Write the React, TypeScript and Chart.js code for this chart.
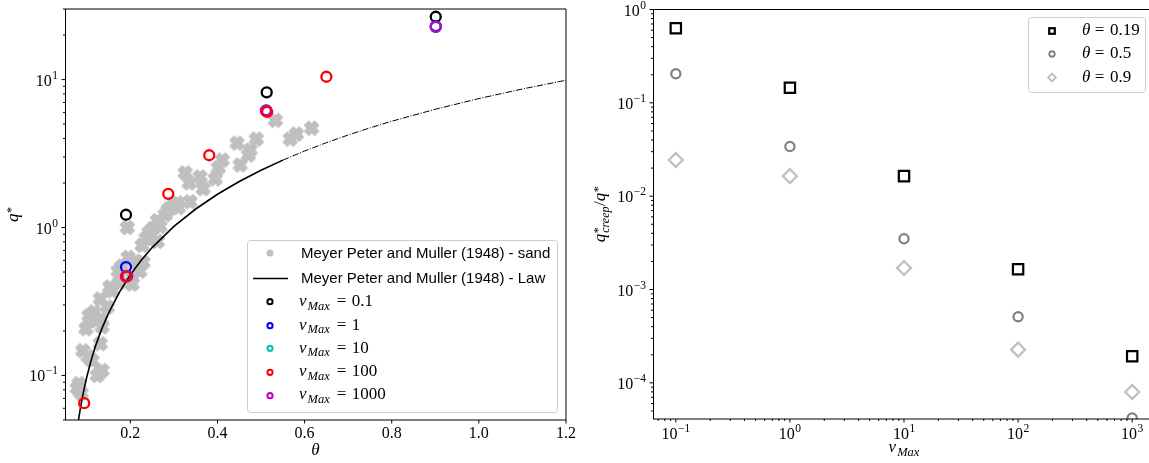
import React, { useEffect, useRef } from 'react';
import { Chart, registerables } from 'chart.js';

Chart.register(...registerables);

// ---------------- Left panel data ----------------
const sandTheta = [0.078, 0.087, 0.082, 0.091, 0.103, 0.112, 0.131, 0.124, 0.135, 0.098, 0.108, 0.117, 0.105, 0.133, 0.131, 0.147, 0.135, 0.153, 0.158, 0.176, 0.172, 0.204, 0.204, 0.222, 0.181, 0.195, 0.211, 0.229, 0.227, 0.236, 0.262, 0.243, 0.252, 0.262, 0.193, 0.268, 0.296, 0.308, 0.337, 0.31, 0.326, 0.36, 0.335, 0.367, 0.395, 0.402, 0.411, 0.452, 0.445, 0.475, 0.489, 0.471, 0.533, 0.567, 0.581, 0.616, 0.287, 0.28];
const sandQ = [0.082, 0.076, 0.088, 0.147, 0.134, 0.126, 0.164, 0.1, 0.108, 0.207, 0.234, 0.269, 0.253, 0.241, 0.329, 0.29, 0.213, 0.396, 0.372, 0.428, 0.507, 0.414, 0.462, 0.507, 0.547, 0.629, 0.591, 0.582, 0.757, 0.844, 0.805, 0.926, 0.985, 1.114, 1.0, 1.016, 1.383, 1.47, 1.494, 1.362, 2.34, 2.2, 2.0, 1.83, 2.13, 2.53, 2.86, 2.65, 3.72, 3.34, 3.96, 3.09, 5.31, 3.96, 4.28, 4.69, 1.32, 1.22];

const lawThetaSolid = [0.08, 0.085, 0.09, 0.095, 0.1, 0.11, 0.12, 0.135, 0.15, 0.175, 0.2, 0.225, 0.25, 0.3, 0.35, 0.4, 0.45, 0.5, 0.55];
const lawQSolid = [0.048, 0.0593, 0.0713, 0.0841, 0.0976, 0.1265, 0.158, 0.2088, 0.264, 0.366, 0.479, 0.601, 0.732, 1.018, 1.334, 1.678, 2.047, 2.439, 2.854];
const lawThetaExt = [0.55, 0.6, 0.65, 0.7, 0.75, 0.8, 0.9, 1.0, 1.1, 1.2];
const lawQExt = [2.854, 3.29, 3.746, 4.22, 4.716, 5.23, 6.3, 7.44, 8.64, 9.9];

const nu01Theta = [0.19, 0.513, 0.901];
const nu01Q = [1.22, 8.2, 26.6];
const nu1Theta = [0.19, 0.512, 0.901];
const nu1Q = [0.54, 6.2, 23.0];
const nu10Theta = [0.19, 0.512, 0.901];
const nu10Q = [0.47, 6.15, 22.7];
const nu100Theta = [0.094, 0.19, 0.287, 0.381, 0.514, 0.65];
const nu100Q = [0.065, 0.465, 1.69, 3.08, 6.05, 10.45];
const nu1000Theta = [0.193, 0.511, 0.901];
const nu1000Q = [0.47, 6.15, 22.7];

const leftLegendText = ['Meyer Peter and Muller (1948) - sand', 'Meyer Peter and Muller (1948) - Law'];
const leftLegendNu = ['0.1', '1', '10', '100', '1000'];
const nuColors = ['#000000', '#0000ff', '#00bfbf', '#ff0000', '#bf00bf'];

const leftXTicks = [0.2, 0.4, 0.6, 0.8, 1.0, 1.2];
const leftXTickLabels = ['0.2', '0.4', '0.6', '0.8', '1.0', '1.2'];
const leftYTicks = [0.1, 1, 10];
const leftYTickExps = ['\u22121', '0', '1'];

// ---------------- Right panel data ----------------
const nuMax = [0.1, 1, 10, 100, 1000];
const ratioTheta019 = [0.63, 0.145, 0.0164, 0.00165, 0.000193];
const ratioTheta05 = [0.205, 0.034, 0.0035, 0.00051, 0.000042];
const ratioTheta09 = [0.0244, 0.0164, 0.0017, 0.000227, 0.00008];
const rightLegendTheta = ['0.19', '0.5', '0.9'];

const rightXTicks = [0.1, 1, 10, 100, 1000];
const rightXTickExps = ['\u22121', '0', '1', '2', '3'];
const rightYTicks = [1e-4, 1e-3, 1e-2, 1e-1, 1];
const rightYTickExps = ['\u22124', '\u22123', '\u22122', '\u22121', '0'];

// ---------------- helpers ----------------
const SERIF = '"Liberation Serif", "DejaVu Serif", serif';
const SANS = '"Liberation Sans", "DejaVu Sans", sans-serif';
const OX = 580; // page x of right canvas

type Seg = { t: string; size: number; italic?: boolean; dy?: number; gap?: number; stack?: boolean; fam?: string };

const fontOf = (s: Seg) => `${s.italic ? 'italic ' : ''}${s.size}px ${s.fam || SERIF}`;

function segsWidth(ctx: CanvasRenderingContext2D, segs: Seg[]) {
  let w = 0;
  let pending = 0;
  for (const s of segs) {
    ctx.font = fontOf(s);
    const sw = ctx.measureText(s.t).width;
    w += s.gap || 0;
    if (s.stack) { pending = sw; continue; }
    w += Math.max(sw, pending);
    pending = 0;
  }
  return w;
}

function drawSegs(ctx: CanvasRenderingContext2D, segs: Seg[], x: number, y: number, align: 'left' | 'right' | 'center') {
  const total = segsWidth(ctx, segs);
  let cx = align === 'left' ? x : align === 'right' ? x - total : x - total / 2;
  let pending = 0;
  ctx.textAlign = 'left';
  ctx.textBaseline = 'alphabetic';
  for (const s of segs) {
    ctx.font = fontOf(s);
    const sw = ctx.measureText(s.t).width;
    cx += s.gap || 0;
    ctx.fillText(s.t, cx, y + (s.dy || 0));
    if (s.stack) { pending = sw; continue; }
    cx += Math.max(sw, pending);
    pending = 0;
  }
}

const powLabel = (e: string): Seg[] => [{ t: '10', size: 16 }, { t: e, size: 11.5, dy: -7, gap: 0.5 }];

function seg(ctx: CanvasRenderingContext2D, x1: number, y1: number, x2: number, y2: number) {
  ctx.beginPath();
  ctx.moveTo(x1, y1);
  ctx.lineTo(x2, y2);
  ctx.stroke();
}

function logMinors(lo: number, hi: number) {
  const out: number[] = [];
  for (let e = Math.floor(Math.log10(lo)); e <= Math.ceil(Math.log10(hi)); e++) {
    for (let m = 2; m <= 9; m++) {
      const v = m * Math.pow(10, e);
      if (v >= lo && v <= hi) out.push(v);
    }
  }
  return out;
}

// filled "X" marker (thick diagonal cross)
function makeXMarker(color: string) {
  const c = document.createElement('canvas');
  c.width = 19;
  c.height = 19;
  const g = c.getContext('2d')!;
  const h = 2.9;
  const L = 7.0;
  const plus = [[-h, -L], [h, -L], [h, -h], [L, -h], [L, h], [h, h], [h, L], [-h, L], [-h, h], [-L, h], [-L, -h], [-h, -h]];
  g.translate(c.width / 2, c.height / 2);
  g.rotate(Math.PI / 4);
  g.beginPath();
  plus.forEach(([px, py], i) => (i ? g.lineTo(px, py) : g.moveTo(px, py)));
  g.closePath();
  g.fillStyle = color;
  g.strokeStyle = color;
  g.lineWidth = 1.4;
  g.lineJoin = 'round';
  g.fill();
  g.stroke();
  return c;
}

const zip = (xs: number[], ys: number[]) => xs.map((x, i) => ({ x, y: ys[i] }));

function circleSet(label: string, xs: number[], ys: number[], color: string) {
  return {
    label,
    data: zip(xs, ys),
    showLine: false,
    pointStyle: 'circle',
    pointRadius: 5,
    pointBorderWidth: 2.3,
    pointBorderColor: color,
    pointBackgroundColor: 'rgba(0,0,0,0)',
    borderColor: color,
    backgroundColor: 'rgba(0,0,0,0)',
    clip: 0,
  };
}

// ---------------- plugins ----------------
const leftDecor = {
  id: 'leftDecor',
  afterDatasetsDraw(chart: any) {
    const { ctx, chartArea: a, scales } = chart;
    const xs = scales.x;
    const ys = scales.y;
    ctx.save();
    ctx.strokeStyle = '#000';
    ctx.fillStyle = '#000';
    ctx.lineWidth = 1;
    // spines
    seg(ctx, a.left + 0.5, a.top, a.left + 0.5, a.bottom);
    seg(ctx, a.left, a.bottom, a.right, a.bottom);
    seg(ctx, a.left, a.top, a.right, a.top);
    seg(ctx, a.right, a.top, a.right, a.bottom);
    // x ticks
    leftXTicks.forEach((v, i) => {
      const px = xs.getPixelForValue(v);
      seg(ctx, px, a.bottom, px, a.bottom + 3.5);
      drawSegs(ctx, [{ t: leftXTickLabels[i], size: 16 }], px, 438, 'center');
    });
    // y ticks
    logMinors(0.05, 30).forEach((v) => {
      const py = ys.getPixelForValue(v);
      seg(ctx, a.left, py, a.left - 2, py);
    });
    leftYTicks.forEach((v, i) => {
      const py = ys.getPixelForValue(v);
      seg(ctx, a.left, py, a.left - 3.5, py);
      drawSegs(ctx, powLabel(leftYTickExps[i]), 58, py + 6, 'right');
    });
    // titles
    drawSegs(ctx, [{ t: '\u03b8', size: 17, italic: true }], (a.left + a.right) / 2, 455, 'center');
    ctx.save();
    ctx.translate(18, (a.top + a.bottom) / 2);
    ctx.rotate(-Math.PI / 2);
    drawSegs(ctx, [{ t: 'q', size: 17, italic: true }, { t: '*', size: 12, dy: -3, gap: 0.5 }], 0, 0, 'center');
    ctx.restore();

    // legend
    ctx.beginPath();
    ctx.roundRect(247.5, 240.5, 310, 172, 3);
    ctx.fillStyle = 'rgba(255,255,255,0.8)';
    ctx.fill();
    ctx.strokeStyle = '#cccccc';
    ctx.stroke();
    ctx.fillStyle = '#c0c0c0';
    ctx.beginPath();
    ctx.arc(270, 253, 3.5, 0, Math.PI * 2);
    ctx.fill();
    ctx.strokeStyle = '#000';
    ctx.lineWidth = 1.5;
    seg(ctx, 253, 278.5, 288, 278.5);
    ctx.fillStyle = '#000';
    drawSegs(ctx, [{ t: leftLegendText[0], size: 15, fam: SANS }], 301, 258, 'left');
    drawSegs(ctx, [{ t: leftLegendText[1], size: 15, fam: SANS }], 301, 283, 'left');
    const cy = [301.7, 325.7, 348.3, 372.3, 395.7];
    const by = [306, 329.5, 352.5, 376, 399];
    leftLegendNu.forEach((v, i) => {
      ctx.strokeStyle = nuColors[i];
      ctx.lineWidth = 2;
      ctx.beginPath();
      ctx.arc(270, cy[i], 2.6, 0, Math.PI * 2);
      ctx.stroke();
      ctx.fillStyle = '#000';
      drawSegs(ctx, [
        { t: '\u03bd', size: 17, italic: true },
        { t: 'Max', size: 12.5, italic: true, dy: 3.5, gap: 1 },
        { t: '=', size: 17, gap: 7 },
        { t: v, size: 17, gap: 5.5 },
      ], 299, by[i], 'left');
    });
    ctx.restore();
  },
};

const rightDecor = {
  id: 'rightDecor',
  afterDatasetsDraw(chart: any) {
    const { ctx, chartArea: a, scales } = chart;
    const xs = scales.x;
    const ys = scales.y;
    ctx.save();
    ctx.strokeStyle = '#000';
    ctx.fillStyle = '#000';
    ctx.lineWidth = 1;
    seg(ctx, a.left + 0.5, a.top, a.left + 0.5, a.bottom);
    seg(ctx, a.left, a.bottom, a.right, a.bottom);
    seg(ctx, a.left, a.top, a.right, a.top);
    seg(ctx, a.right, a.top, a.right, a.bottom);
    logMinors(xs.min, xs.max).forEach((v) => {
      const px = xs.getPixelForValue(v);
      seg(ctx, px, a.bottom, px, a.bottom + 2);
    });
    rightXTicks.forEach((v, i) => {
      const px = xs.getPixelForValue(v);
      seg(ctx, px, a.bottom, px, a.bottom + 3.5);
      drawSegs(ctx, powLabel(rightXTickExps[i]), px, 439, 'center');
    });
    logMinors(ys.min, ys.max).forEach((v) => {
      const py = ys.getPixelForValue(v);
      seg(ctx, a.left, py, a.left - 2, py);
    });
    rightYTicks.forEach((v, i) => {
      const py = ys.getPixelForValue(v);
      seg(ctx, a.left, py, a.left - 3.5, py);
      drawSegs(ctx, powLabel(rightYTickExps[i]), 646 - OX, py + 6, 'right');
    });
    // x title
    drawSegs(ctx, [
      { t: '\u03bd', size: 17, italic: true },
      { t: 'Max', size: 12.5, italic: true, dy: 3.5, gap: 1 },
    ], (a.left + a.right) / 2, 452, 'center');
    // y title
    ctx.save();
    ctx.translate(605 - OX, (a.top + a.bottom) / 2);
    ctx.rotate(-Math.PI / 2);
    drawSegs(ctx, [
      { t: 'q', size: 17, italic: true },
      { t: '*', size: 12, dy: -3, gap: 0.5, stack: true },
      { t: 'creep', size: 12, italic: true, dy: 4, gap: 0.5 },
      { t: '/', size: 17, gap: 0.5 },
      { t: 'q', size: 17, italic: true },
      { t: '*', size: 12, dy: -3, gap: 0.5 },
    ], 0, 0, 'center');
    ctx.restore();
    // legend
    ctx.beginPath();
    ctx.roundRect(1028.5 - OX, 17.5, 117, 75, 3);
    ctx.fillStyle = 'rgba(255,255,255,0.8)';
    ctx.fill();
    ctx.strokeStyle = '#cccccc';
    ctx.lineWidth = 1;
    ctx.stroke();
    const hx = 1052 - OX;
    ctx.lineWidth = 2.2;
    ctx.strokeStyle = '#000000';
    ctx.strokeRect(hx - 2.8, 31 - 2.8, 5.6, 5.6);
    ctx.lineWidth = 1.9;
    ctx.strokeStyle = '#808080';
    ctx.beginPath();
    ctx.arc(hx, 54, 2.7, 0, Math.PI * 2);
    ctx.stroke();
    ctx.strokeStyle = '#bfbfbf';
    ctx.beginPath();
    ctx.moveTo(hx, 77.5 - 3.8);
    ctx.lineTo(hx + 3.8, 77.5);
    ctx.lineTo(hx, 77.5 + 3.8);
    ctx.lineTo(hx - 3.8, 77.5);
    ctx.closePath();
    ctx.stroke();
    ctx.fillStyle = '#000';
    const by = [35, 58, 81.5];
    rightLegendTheta.forEach((v, i) => {
      drawSegs(ctx, [
        { t: '\u03b8', size: 17, italic: true },
        { t: '=', size: 17, gap: 4.5 },
        { t: v, size: 17, gap: 5.5 },
      ], 1082 - OX, by[i], 'left');
    });
    ctx.restore();
  },
};

function withOrder(sets: any[]) {
  return sets.map((s, i) => ({ ...s, order: sets.length - i }));
}

export default function App() {
  const leftRef = useRef<HTMLCanvasElement>(null);
  const rightRef = useRef<HTMLCanvasElement>(null);

  useEffect(() => {
    const xMarker = makeXMarker('#bfbfbf');
    const leftSets = withOrder([
      {
        label: leftLegendText[0],
        data: zip(sandTheta, sandQ),
        showLine: false,
        pointStyle: xMarker,
        pointRadius: 8,
        borderColor: '#bfbfbf',
        backgroundColor: '#bfbfbf',
        clip: 0,
      },
      {
        label: leftLegendText[1],
        data: zip(lawThetaSolid, lawQSolid),
        showLine: true,
        borderColor: '#000',
        borderWidth: 1.6,
        pointRadius: 0,
        tension: 0,
        fill: false,
        clip: 0,
      },
      {
        label: 'law (extrapolated)',
        data: zip(lawThetaExt, lawQExt),
        showLine: true,
        borderColor: '#000',
        borderWidth: 1,
        borderDash: [6.4, 1.6, 1, 1.6],
        pointRadius: 0,
        tension: 0,
        fill: false,
        clip: 0,
      },
      circleSet('nu 0.1', nu01Theta, nu01Q, nuColors[0]),
      circleSet('nu 1', nu1Theta, nu1Q, nuColors[1]),
      circleSet('nu 10', nu10Theta, nu10Q, nuColors[2]),
      circleSet('nu 1000', nu1000Theta, nu1000Q, nuColors[4]),
      circleSet('nu 100', nu100Theta, nu100Q, nuColors[3]),
    ]);

    const left = new Chart(leftRef.current!, {
      type: 'scatter',
      data: { datasets: leftSets as any },
      options: {
        responsive: false,
        animation: false,
        devicePixelRatio: 1,
        events: [],
        layout: { padding: { left: 65, right: 24, top: 8, bottom: 43 } },
        plugins: { legend: { display: false }, tooltip: { enabled: false } },
        scales: {
          x: { type: 'linear', min: 0.05, max: 1.2, display: false, bounds: 'data' },
          y: { type: 'logarithmic', min: 0.05, max: 30, display: false, bounds: 'data' },
        },
      },
      plugins: [leftDecor],
    } as any);

    const rightSets = withOrder([
      {
        label: '\u03b8 = 0.19',
        data: zip(nuMax, ratioTheta019),
        showLine: false,
        pointStyle: 'rect',
        pointRadius: 7.3,
        pointBorderWidth: 2.2,
        pointBorderColor: '#000000',
        pointBackgroundColor: 'rgba(0,0,0,0)',
        clip: 0,
      },
      {
        label: '\u03b8 = 0.5',
        data: zip(nuMax, ratioTheta05),
        showLine: false,
        pointStyle: 'circle',
        pointRadius: 4.6,
        pointBorderWidth: 2.2,
        pointBorderColor: '#808080',
        pointBackgroundColor: 'rgba(0,0,0,0)',
        clip: 0,
      },
      {
        label: '\u03b8 = 0.9',
        data: zip(nuMax, ratioTheta09),
        showLine: false,
        pointStyle: 'rectRot',
        pointRadius: 7,
        pointBorderWidth: 2.2,
        pointBorderColor: '#bfbfbf',
        pointBackgroundColor: 'rgba(0,0,0,0)',
        clip: 0,
      },
    ]);

    const right = new Chart(rightRef.current!, {
      type: 'scatter',
      data: { datasets: rightSets as any },
      options: {
        responsive: false,
        animation: false,
        devicePixelRatio: 1,
        events: [],
        layout: { padding: { left: 73, right: 15, top: 9, bottom: 44 } },
        plugins: { legend: { display: false }, tooltip: { enabled: false } },
        scales: {
          x: { type: 'logarithmic', min: Math.pow(10, -1.2), max: Math.pow(10, 3.2), display: false, bounds: 'data' },
          y: { type: 'logarithmic', min: 4.1e-5, max: 1, display: false, bounds: 'data' },
        },
      },
      plugins: [rightDecor],
    } as any);

    return () => {
      left.destroy();
      right.destroy();
    };
  }, []);

  return (
    <div style={{ position: 'fixed', left: 0, top: 0, width: 1149, height: 463, overflow: 'hidden', background: '#ffffff' }}>
      <canvas ref={leftRef} width={590} height={463} style={{ position: 'absolute', left: 0, top: 0 }} />
      <canvas ref={rightRef} width={590} height={463} style={{ position: 'absolute', left: OX, top: 0 }} />
    </div>
  );
}
